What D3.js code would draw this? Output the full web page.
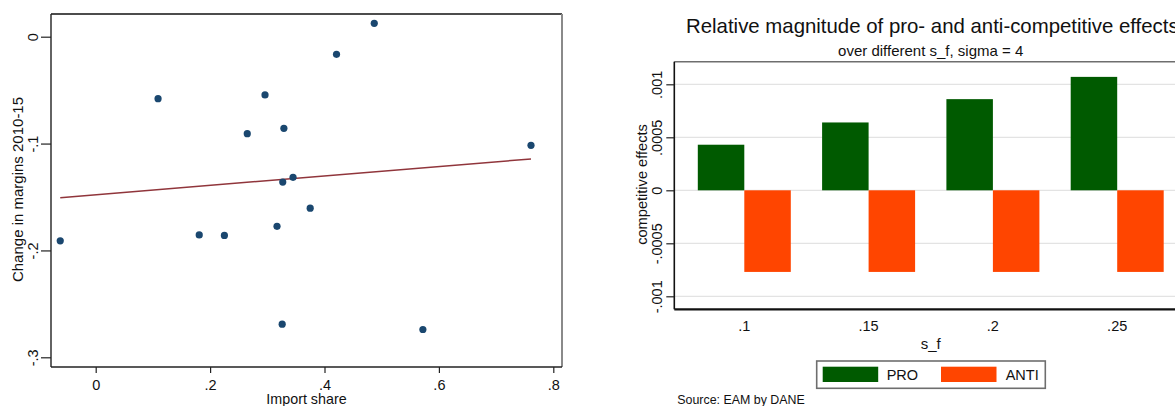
<!DOCTYPE html>
<html>
<head>
<meta charset="utf-8">
<script src="https://cdn.jsdelivr.net/npm/d3@7"></script>
<style>
  html, body { margin: 0; padding: 0; background: #fff; }
  svg text { font-family: "Liberation Sans", Arial, sans-serif; fill: #111; }
</style>
</head>
<body>
<svg id="chart" width="1175" height="406"></svg>
<script>
// ---- Left panel: import share vs change in margins ----
const importShare  = [-0.062, 0.109, 0.181, 0.225, 0.265, 0.296, 0.317, 0.326, 0.327, 0.329, 0.345, 0.375, 0.421, 0.487, 0.572, 0.761];
const marginChange = [-0.191, -0.058, -0.1855, -0.186, -0.0907, -0.0545, -0.1774, -0.269, -0.136, -0.0857, -0.1316, -0.1605, -0.0165, 0.0125, -0.274, -0.1016];
// fitted values of the linear fit at both ends of the sample
const fitImport = [-0.062, 0.761];
const fitMargin = [-0.1506, -0.1144];

const shareTicks = [0, 0.2, 0.4, 0.6, 0.8];
const shareTickLabels = ["0", ".2", ".4", ".6", ".8"];
const marginTicks = [0, -0.1, -0.2, -0.3];
const marginTickLabels = ["0", "-.1", "-.2", "-.3"];

// ---- Right panel: pro- and anti-competitive effects by s_f ----
const sfCategories = [".1", ".15", ".2", ".25"];
const proEffect  = [0.00043, 0.00064, 0.00086, 0.00107];
const antiEffect = [-0.00077, -0.00077, -0.00077, -0.00077];
const seriesNames = ["PRO", "ANTI"];
const effectTicks = [0.001, 0.0005, 0, -0.0005, -0.001];
const effectTickLabels = [".001", ".0005", "0", "-.0005", "-.001"];

const svg = d3.select("#chart");
const FONT = '"Liberation Sans", Arial, sans-serif';

// ================= Left panel =================
(function () {
  const box = { left: 51, right: 562, top: 14, bottom: 367 };
  const x = d3.scaleLinear().domain([0, 0.8]).range([95.7, 553.3]);
  const y = d3.scaleLinear().domain([0, -0.3]).range([36.7, 357.3]);
  const g = svg.append("g");

  // plot region frame
  g.append("line").attr("x1", box.left).attr("x2", box.right).attr("y1", box.top).attr("y2", box.top)
    .attr("stroke", "#111").attr("stroke-width", 1.3);
  g.append("line").attr("x1", box.right).attr("x2", box.right).attr("y1", box.top).attr("y2", box.bottom)
    .attr("stroke", "#8a8a8a").attr("stroke-width", 2);

  // y axis
  const yAxis = d3.axisLeft(y).tickValues(marginTicks)
    .tickFormat((d, i) => marginTickLabels[i]).tickSize(10).tickSizeOuter(0);
  const gy = g.append("g").attr("transform", `translate(${box.left},0)`).call(yAxis);
  gy.select(".domain").attr("d", `M0,${box.top}V${box.bottom}`).attr("stroke", "#222").attr("stroke-width", 1.4);
  gy.selectAll(".tick line").attr("stroke", "#222").attr("stroke-width", 1.2);
  gy.selectAll(".tick text").attr("x", null).attr("dy", null)
    .attr("text-anchor", "middle").attr("transform", "translate(-12.7,0) rotate(-90)")
    .style("font-family", FONT).style("font-size", "14.5px").attr("fill", "#111");

  // x axis
  const xAxis = d3.axisBottom(x).tickValues(shareTicks)
    .tickFormat((d, i) => shareTickLabels[i]).tickSize(6).tickSizeOuter(0);
  const gx = g.append("g").attr("transform", `translate(0,${box.bottom})`).call(xAxis);
  gx.select(".domain").attr("d", `M${box.left},0H${box.right}`).attr("stroke", "#222").attr("stroke-width", 1.4);
  gx.selectAll(".tick line").attr("stroke", "#222").attr("stroke-width", 1.2);
  gx.selectAll(".tick text").attr("y", 23).attr("dy", null)
    .style("font-family", FONT).style("font-size", "14.5px").attr("fill", "#111");

  // axis titles
  g.append("text").attr("x", (box.left + box.right) / 2).attr("y", 404)
    .attr("text-anchor", "middle").style("font-size", "14.3px").text("Import share");
  g.append("text").attr("transform", `translate(23.3,${(box.top + box.bottom) / 2 - 1}) rotate(-90)`)
    .attr("text-anchor", "middle").style("font-size", "15px").text("Change in margins 2010-15");

  // fitted line
  const line = d3.line().x(d => x(d[0])).y(d => y(d[1]));
  g.append("path").datum(d3.zip(fitImport, fitMargin)).attr("d", line)
    .attr("fill", "none").attr("stroke", "#90353b").attr("stroke-width", 1.5);

  // scatter points
  g.selectAll("circle.pt").data(d3.zip(importShare, marginChange)).join("circle")
    .attr("class", "pt").attr("cx", d => x(d[0])).attr("cy", d => y(d[1])).attr("r", 3.6)
    .attr("fill", "#1a476f");
})();

// ================= Right panel =================
(function () {
  const box = { left: 674.3, right: 1190, top: 61.7, bottom: 309.3 };
  const y = d3.scaleLinear().domain([-0.001, 0.001]).range([296.3, 84.3]);
  // group centres, one per s_f value
  const xc = d3.scalePoint().domain(sfCategories).range([744.3, 744.3 + 124.3 * (sfCategories.length - 1)]);
  const groupWidth = 93;
  const x1 = d3.scaleBand().domain(seriesNames).range([0, groupWidth]).padding(0);
  const color = d3.scaleOrdinal().domain(seriesNames).range(["#005a00", "#ff4500"]);
  const g = svg.append("g");

  // gridlines
  g.selectAll("line.grid").data(effectTicks).join("line").attr("class", "grid")
    .attr("x1", box.left).attr("x2", box.right).attr("y1", d => y(d)).attr("y2", d => y(d))
    .attr("stroke", "#e3e3e3").attr("stroke-width", 1.2);

  // top frame
  g.append("line").attr("x1", box.left).attr("x2", box.right).attr("y1", box.top).attr("y2", box.top)
    .attr("stroke", "#6e6e6e").attr("stroke-width", 1.6);

  // bars
  const rows = sfCategories.map((c, i) => ({ cat: c, vals: [
    { key: "PRO", v: proEffect[i] }, { key: "ANTI", v: antiEffect[i] }] }));
  const groups = g.selectAll("g.grp").data(rows).join("g").attr("class", "grp")
    .attr("transform", d => `translate(${xc(d.cat) - groupWidth / 2},0)`);
  groups.selectAll("rect").data(d => d.vals).join("rect")
    .attr("x", d => x1(d.key)).attr("width", x1.bandwidth())
    .attr("y", d => y(Math.max(0, d.v))).attr("height", d => Math.abs(y(d.v) - y(0)))
    .attr("fill", d => color(d.key));

  // y axis
  const yAxis = d3.axisLeft(y).tickValues(effectTicks)
    .tickFormat((d, i) => effectTickLabels[i]).tickSize(8).tickSizeOuter(0);
  const gy = g.append("g").attr("transform", `translate(${box.left},0)`).call(yAxis);
  gy.select(".domain").attr("d", `M0,${box.top}V${box.bottom}`).attr("stroke", "#111").attr("stroke-width", 1.6);
  gy.selectAll(".tick line").attr("stroke", "#222").attr("stroke-width", 1.2);
  gy.selectAll(".tick text").attr("x", null).attr("dy", null)
    .attr("text-anchor", "middle").attr("transform", "translate(-12.6,0) rotate(-90)")
    .style("font-family", FONT).style("font-size", "14.5px").attr("fill", "#111");

  // x axis (categorical, no ticks)
  g.append("line").attr("x1", box.left).attr("x2", box.right).attr("y1", box.bottom).attr("y2", box.bottom)
    .attr("stroke", "#111").attr("stroke-width", 2.2);
  g.selectAll("text.cat").data(sfCategories).join("text").attr("class", "cat")
    .attr("x", d => xc(d)).attr("y", 331).attr("text-anchor", "middle")
    .style("font-size", "14.5px").text(d => d);

  // titles
  g.append("text").attr("x", 686).attr("y", 33.3).style("font-size", "20.4px")
    .text("Relative magnitude of pro- and anti-competitive effects");
  g.append("text").attr("x", 930.7).attr("y", 55.7).attr("text-anchor", "middle")
    .style("font-size", "15px").text("over different s_f, sigma = 4");
  g.append("text").attr("x", 930.8).attr("y", 349.3).attr("text-anchor", "middle")
    .style("font-size", "15px").text("s_f");
  g.append("text").attr("transform", `translate(647,184.5) rotate(-90)`).attr("text-anchor", "middle")
    .style("font-size", "14.6px").text("competitive effects");

  // legend
  const lg = g.append("g");
  lg.append("rect").attr("x", 816.7).attr("y", 361).attr("width", 228.6).attr("height", 27.3)
    .attr("fill", "#fff").attr("stroke", "#6e6e6e").attr("stroke-width", 1.6);
  const legendItems = [
    { key: "PRO", sx: 822.7, tx: 886.7 },
    { key: "ANTI", sx: 941, tx: 1005.7 }
  ];
  lg.selectAll("rect.sw").data(legendItems).join("rect").attr("class", "sw")
    .attr("x", d => d.sx).attr("y", 366.7).attr("width", 55.5).attr("height", 15.3)
    .attr("fill", d => color(d.key));
  lg.selectAll("text.lt").data(legendItems).join("text").attr("class", "lt")
    .attr("x", d => d.tx).attr("y", 380).style("font-size", "14.5px").text(d => d.key);

  // note
  g.append("text").attr("x", 677.3).attr("y", 404).style("font-size", "12.4px").attr("fill", "#222")
    .text("Source: EAM by DANE");
})();
</script>
</body>
</html>
